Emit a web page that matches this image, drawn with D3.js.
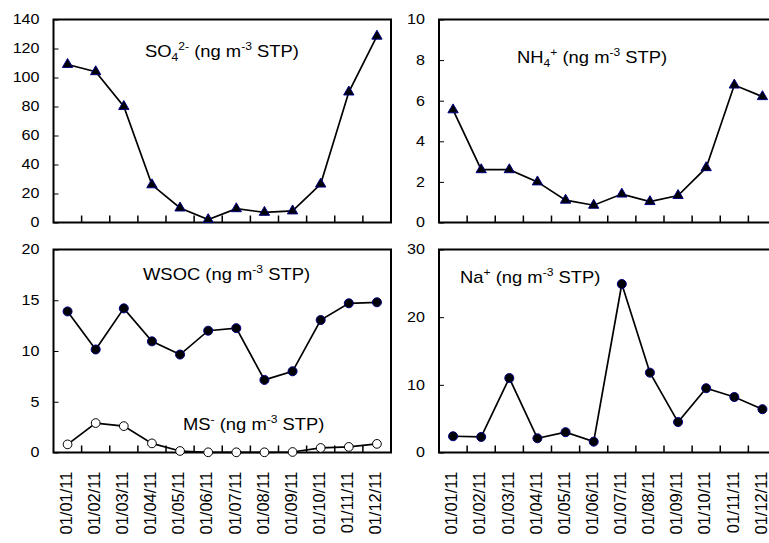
<!DOCTYPE html>
<html>
<head>
<meta charset="utf-8">
<script src="https://cdn.jsdelivr.net/npm/d3@7/dist/d3.min.js"></script>
<style>
  html, body { margin: 0; background: #ffffff; overflow: hidden; width: 769px; height: 543px; }
  svg { display: block; overflow: hidden; }
</style>
</head>
<body>
<div id="chart"></div>
<script>
// categories (sampling months)
const months = ['01/01/11', '01/02/11', '01/03/11', '01/04/11', '01/05/11', '01/06/11',
                '01/07/11', '01/08/11', '01/09/11', '01/10/11', '01/11/11', '01/12/11'];

// series values
const so4Values  = [109, 104, 80, 26, 10, 2, 9.5, 7, 8, 26.5, 90, 128.5];
const nh4Values  = [5.55, 2.6, 2.6, 2.0, 1.1, 0.85, 1.4, 1.03, 1.33, 2.7, 6.77, 6.2];
const wsocValues = [13.9, 10.15, 14.2, 10.95, 9.65, 12.0, 12.25, 7.15, 8.0, 13.05, 14.7, 14.8];
const msValues   = [0.8, 2.9, 2.6, 0.9, 0.15, 0.02, 0.02, 0.02, 0.05, 0.45, 0.55, 0.85];
const naValues   = [2.4, 2.3, 11.0, 2.1, 3.0, 1.6, 24.9, 11.8, 4.5, 9.5, 8.2, 6.4];

// y tick labels per panel
const so4Ticks  = [0, 20, 40, 60, 80, 100, 120, 140];
const nh4Ticks  = [0, 2, 4, 6, 8, 10];
const wsocTicks = [0, 5, 10, 15, 20];
const naTicks   = [0, 10, 20, 30];

const W = 769, H = 543;
const FONT = '"Liberation Sans", Arial, Helvetica, sans-serif';
const STRETCH = 1.15;   // the figure text is a bit wide

const svg = d3.select('#chart').append('svg')
    .attr('width', W)
    .attr('height', H)
    .attr('viewBox', `0 0 ${W} ${H}`)
    .style('font-family', FONT);

// the right-hand panels run past the picture edge, so clip to the page
svg.append('clipPath').attr('id', 'page-clip')
    .append('rect').attr('x', 0).attr('y', 0).attr('width', W).attr('height', H);
const root = svg.append('g').attr('clip-path', 'url(#page-clip)');

const panels = [
    {
        box: { left: 53.5, right: 391, top: 19.5, bottom: 222.5 },
        ticks: so4Ticks, xLabels: false,
        series: [{ values: so4Values, marker: 'triangle' }],
        titles: [{ x: 145, y: 57, parts: [['SO'], ['4', 'sub'], ['2-', 'sup'], [' (ng m'], ['-3', 'sup'], [' STP)']] }]
    },
    {
        box: { left: 439, right: 776.5, top: 19.5, bottom: 222.5 },
        ticks: nh4Ticks, xLabels: false,
        series: [{ values: nh4Values, marker: 'triangle' }],
        titles: [{ x: 517, y: 63, parts: [['NH'], ['4', 'sub'], ['+', 'sup'], [' (ng m'], ['-3', 'sup'], [' STP)']] }]
    },
    {
        box: { left: 53.5, right: 391, top: 249.5, bottom: 452.5 },
        ticks: wsocTicks, xLabels: true,
        series: [
            { values: wsocValues, marker: 'dot' },
            { values: msValues, marker: 'open' }
        ],
        titles: [
            { x: 143, y: 280, parts: [['WSOC (ng m'], ['-3', 'sup'], [' STP)']] },
            { x: 183, y: 430, parts: [['MS'], ['-', 'sup'], [' (ng m'], ['-3', 'sup'], [' STP)']] }
        ]
    },
    {
        box: { left: 439, right: 776.5, top: 249.5, bottom: 452.5 },
        ticks: naTicks, xLabels: true,
        series: [{ values: naValues, marker: 'dot' }],
        titles: [{ x: 460, y: 283, parts: [['Na'], ['+', 'sup'], [' (ng m'], ['-3', 'sup'], [' STP)']] }]
    }
];

function drawTitle(g, t) {
    const holder = g.append('g')
        .attr('transform', `translate(${t.x},${t.y}) scale(${STRETCH},1)`);
    const text = holder.append('text')
        .attr('x', 0).attr('y', 0)
        .attr('font-size', 16)
        .attr('fill', '#000');
    let shift = 0;
    t.parts.forEach(([str, kind]) => {
        const target = kind === 'sub' ? 4 : kind === 'sup' ? -7 : 0;
        text.append('tspan')
            .attr('dy', target - shift)
            .attr('font-size', kind ? 10.5 : 16)
            .text(str);
        shift = target;
    });
}

panels.forEach((p) => {
    const { left, right, top, bottom } = p.box;
    const g = root.append('g');

    const x = d3.scaleBand().domain(months).range([left, right]).paddingInner(0).paddingOuter(0);
    const y = d3.scaleLinear()
        .domain([0, p.ticks[p.ticks.length - 1]])
        .range([bottom, top]);
    const cx = (d) => x(d) + x.bandwidth() / 2;

    // y axis with small inside ticks
    const yAxis = g.append('g')
        .attr('transform', `translate(${left},0)`)
        .call(d3.axisLeft(y).tickValues(p.ticks).tickSizeInner(-5).tickSizeOuter(0).tickPadding(14));
    yAxis.select('.domain').remove();
    yAxis.selectAll('.tick line').attr('stroke', '#000').attr('stroke-width', 1);
    yAxis.selectAll('.tick text')
        .attr('font-family', FONT)
        .attr('font-size', 14)
        .attr('fill', '#000')
        .attr('x', -14 / STRETCH)
        .attr('transform', `scale(${STRETCH},1)`);

    // x axis: category labels (bottom panels only)
    if (p.xLabels) {
        const xAxis = g.append('g')
            .attr('transform', `translate(0,${bottom})`)
            .call(d3.axisBottom(x).tickSize(0));
        xAxis.select('.domain').remove();
        xAxis.selectAll('.tick text')
            .attr('font-family', FONT)
            .attr('font-size', 16.5)
            .attr('fill', '#000')
            .attr('text-anchor', 'end')
            .attr('transform', 'rotate(-90)')
            .attr('x', -19)
            .attr('y', 0)
            .attr('dy', '0.26em');
    }

    // category boundary ticks, pointing up into the plot
    g.append('g')
        .selectAll('line')
        .data(months.slice(1))
        .join('line')
        .attr('x1', (d) => x(d)).attr('x2', (d) => x(d))
        .attr('y1', bottom).attr('y2', bottom - 7)
        .attr('stroke', '#000').attr('stroke-width', 1.5);

    // frame
    g.append('rect')
        .attr('x', left).attr('y', top)
        .attr('width', right - left).attr('height', bottom - top)
        .attr('fill', 'none')
        .attr('stroke', '#000')
        .attr('stroke-width', 2);

    p.titles.forEach((t) => drawTitle(g, t));

    const line = d3.line()
        .x((d, i) => cx(months[i]))
        .y((d) => y(d));

    p.series.forEach((s) => {
        g.append('path')
            .datum(s.values)
            .attr('d', line)
            .attr('fill', 'none')
            .attr('stroke', '#000')
            .attr('stroke-width', 1.7);

        const pts = g.append('g').selectAll('.pt')
            .data(s.values)
            .join('path')
            .attr('class', 'pt')
            .attr('transform', (d, i) => `translate(${cx(months[i])},${y(d)})`);

        if (s.marker === 'triangle') {
            pts.attr('d', d3.symbol(d3.symbolTriangle, 46)())
                .attr('fill', '#000')
                .attr('stroke', '#000080')
                .attr('stroke-width', 1);
        } else if (s.marker === 'dot') {
            pts.attr('d', d3.symbol(d3.symbolCircle, 64)())
                .attr('fill', '#000')
                .attr('stroke', '#000080')
                .attr('stroke-width', 1);
        } else {
            pts.attr('d', d3.symbol(d3.symbolCircle, 60)())
                .attr('fill', '#fff')
                .attr('stroke', '#000')
                .attr('stroke-width', 1);
        }
    });
});
</script>
</body>
</html>
